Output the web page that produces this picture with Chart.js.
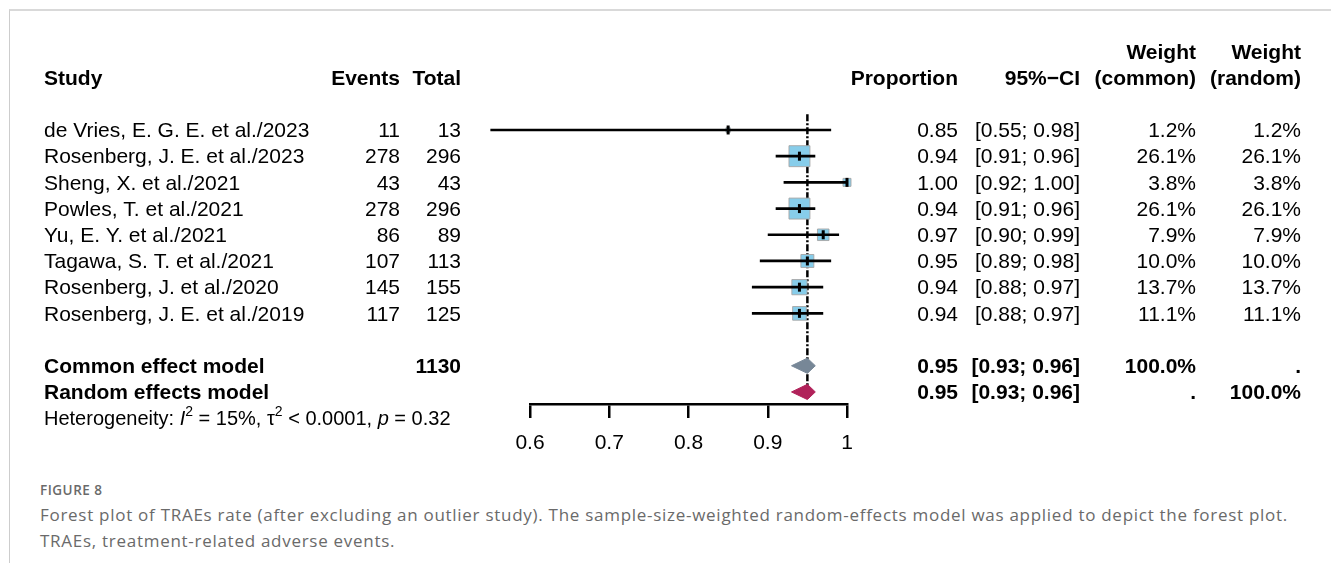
<!DOCTYPE html>
<html>
<head>
<meta charset="utf-8">
<title>Forest plot of TRAEs rate</title>
<script src="https://cdn.jsdelivr.net/npm/chart.js@4.4.1/dist/chart.umd.min.js"></script>
<style>
  html, body { margin: 0; padding: 0; background: #fff; }
  body { width: 1331px; height: 563px; position: relative; overflow: hidden; }
  .frame { position: absolute; left: 9px; top: 9px; right: 0; bottom: 0;
           border-top: 2px solid #d9d9d9; border-left: 1px solid #cdcdcd; }
  #plot { position: absolute; left: 0; top: 0; }
  .fig-label { position: absolute; left: 40px; top: 481px; font-family: 'Open Sans', Lato, sans-serif;
               font-size: 13.5px; letter-spacing: 0.5px; font-weight: 600; color: #6a6a6a; }
  .fig-text { position: absolute; left: 40px; top: 502px; width: 1290px; font-family: 'Open Sans', Lato, sans-serif;
              font-size: 17px; letter-spacing: 0.72px; line-height: 26px; color: #6a6a6a; white-space: nowrap; }
</style>
</head>
<body>
<div class="frame"></div>
<canvas id="plot" width="1331" height="470"></canvas>
<div class="fig-label">FIGURE 8</div>
<div class="fig-text">Forest plot of TRAEs rate (after excluding an outlier study). The sample-size-weighted random-effects model was applied to depict the forest plot.<br>TRAEs, treatment-related adverse events.</div>

<script>
// study level data
const studies = [
  'de Vries, E. G. E. et al./2023',
  'Rosenberg, J. E. et al./2023',
  'Sheng, X. et al./2021',
  'Powles, T. et al./2021',
  'Yu, E. Y. et al./2021',
  'Tagawa, S. T. et al./2021',
  'Rosenberg, J. et al./2020',
  'Rosenberg, J. E. et al./2019'
];
const events = [11, 278, 43, 278, 86, 107, 145, 117];
const totals = [13, 296, 43, 296, 89, 113, 155, 125];
const proportion = [0.85, 0.94, 1.00, 0.94, 0.97, 0.95, 0.94, 0.94];
const ciLower = [0.55, 0.91, 0.92, 0.91, 0.90, 0.89, 0.88, 0.88];
const ciUpper = [0.98, 0.96, 1.00, 0.96, 0.99, 0.98, 0.97, 0.97];
const weightCommon = [1.2, 26.1, 3.8, 26.1, 7.9, 10.0, 13.7, 11.1];
const weightRandom = [1.2, 26.1, 3.8, 26.1, 7.9, 10.0, 13.7, 11.1];

// pooled estimates
const totalN = 1130;
const commonEst = [0.95, 0.93, 0.96];   // estimate, lower, upper
const randomEst = [0.95, 0.93, 0.96];
const hetI2 = '15%';
const hetTau2 = '< 0.0001';
const hetP = '0.32';

const xTicks = [0.6, 0.7, 0.8, 0.9, 1];

// layout
const FONT = '"Liberation Sans", Arial, Helvetica, sans-serif';
const FS = 21;
const TEXT_DY = 1.5;
const ROW_COMMON = 9, ROW_RANDOM = 10, ROW_HET = 11;
const BOX_SCALE = 4.1;     // square side per sqrt(weight)
const DIAMOND_H = 0.29;    // half height of summary diamonds, in rows
const COL = { study: 44, events: 400, total: 461, prop: 958, ci: 1080, wCommon: 1196, wRandom: 1301 };

const fmtCI = (lo, hi) => '[' + lo.toFixed(2) + '; ' + hi.toFixed(2) + ']';
const fmtW = w => w.toFixed(1) + '%';

// CI whiskers as one broken line
const ciData = [];
studies.forEach((_, i) => {
  ciData.push({ x: ciLower[i], y: i }, { x: ciUpper[i], y: i }, { x: null, y: null });
});

const pointData = studies.map((_, i) => ({ x: proportion[i], y: i }));
const boxRadius = weightRandom.map(w => BOX_SCALE * Math.sqrt(w) / Math.SQRT2);

function diamond(est, row) {
  const [m, lo, hi] = est;
  return [
    { x: lo, y: row }, { x: m, y: row - DIAMOND_H },
    { x: hi, y: row }, { x: m, y: row + DIAMOND_H }, { x: lo, y: row }
  ];
}

// table text drawn next to the plot
const forestText = {
  id: 'forestText',
  afterDraw(chart) {
    const { ctx } = chart;
    const yScale = chart.scales.y;
    const rowY = row => yScale.getPixelForValue(row) + TEXT_DY;
    const put = (txt, x, row, align, bold) => {
      ctx.font = (bold ? 'bold ' : '') + FS + 'px ' + FONT;
      ctx.textAlign = align;
      ctx.textBaseline = 'middle';
      ctx.fillStyle = '#000';
      ctx.fillText(txt, x, rowY(row));
    };
    ctx.save();

    // headers
    put('Study', COL.study, -2, 'left', true);
    put('Events', COL.events, -2, 'right', true);
    put('Total', COL.total, -2, 'right', true);
    put('Proportion', COL.prop, -2, 'right', true);
    put('95%\u2212CI', COL.ci, -2, 'right', true);
    put('Weight', COL.wCommon, -3, 'right', true);
    put('(common)', COL.wCommon, -2, 'right', true);
    put('Weight', COL.wRandom, -3, 'right', true);
    put('(random)', COL.wRandom, -2, 'right', true);

    // study rows
    studies.forEach((s, i) => {
      put(s, COL.study, i, 'left');
      put(String(events[i]), COL.events, i, 'right');
      put(String(totals[i]), COL.total, i, 'right');
      put(proportion[i].toFixed(2), COL.prop, i, 'right');
      put(fmtCI(ciLower[i], ciUpper[i]), COL.ci, i, 'right');
      put(fmtW(weightCommon[i]), COL.wCommon, i, 'right');
      put(fmtW(weightRandom[i]), COL.wRandom, i, 'right');
    });

    // pooled rows
    put('Common effect model', COL.study, ROW_COMMON, 'left', true);
    put(String(totalN), COL.total, ROW_COMMON, 'right', true);
    put(commonEst[0].toFixed(2), COL.prop, ROW_COMMON, 'right', true);
    put(fmtCI(commonEst[1], commonEst[2]), COL.ci, ROW_COMMON, 'right', true);
    put('100.0%', COL.wCommon, ROW_COMMON, 'right', true);
    put('.', COL.wRandom, ROW_COMMON, 'right', true);

    put('Random effects model', COL.study, ROW_RANDOM, 'left', true);
    put(randomEst[0].toFixed(2), COL.prop, ROW_RANDOM, 'right', true);
    put(fmtCI(randomEst[1], randomEst[2]), COL.ci, ROW_RANDOM, 'right', true);
    put('.', COL.wCommon, ROW_RANDOM, 'right', true);
    put('100.0%', COL.wRandom, ROW_RANDOM, 'right', true);

    // heterogeneity line with italics and superscripts
    const hs = 20;
    const parts = [
      ['Heterogeneity: ', ''], ['I', 'italic '], ['2', 'sup'], [' = ' + hetI2 + ', ', ''],
      ['\u03c4', ''], ['2', 'sup'], [' ' + hetTau2 + ', ', ''], ['p', 'italic '], [' = ' + hetP, '']
    ];
    let x = COL.study;
    const yh = rowY(ROW_HET);
    ctx.textAlign = 'left';
    ctx.textBaseline = 'middle';
    parts.forEach(([t, st]) => {
      if (st === 'sup') {
        ctx.font = '14px ' + FONT;
        ctx.fillText(t, x, yh - 8);
      } else {
        ctx.font = st + hs + 'px ' + FONT;
        ctx.fillText(t, x, yh);
      }
      x += ctx.measureText(t).width;
    });
    ctx.restore();
  }
};

new Chart(document.getElementById('plot'), {
  type: 'scatter',
  data: {
    datasets: [
      {
        // reference line at the pooled estimate
        data: [{ x: commonEst[0], y: -0.6 }, { x: commonEst[0], y: ROW_RANDOM }],
        showLine: true,
        borderColor: '#000',
        borderWidth: 2.5,
        borderDash: [7, 2, 2, 2],
        pointRadius: 0,
        order: 6
      },
      {
        data: pointData,
        pointStyle: 'rect',
        pointRadius: boxRadius,
        backgroundColor: '#87cdea',
        borderColor: 'rgba(165,165,165,0.9)',
        borderWidth: 1,
        clip: false,
        order: 5
      },
      {
        data: ciData,
        showLine: true,
        spanGaps: false,
        borderColor: '#000',
        borderWidth: 2.7,
        pointRadius: 0,
        clip: false,
        order: 4
      },
      {
        data: pointData,
        pointStyle: 'line',
        rotation: 90,
        pointRadius: 4.5,
        borderColor: '#000',
        borderWidth: 3,
        clip: false,
        order: 3
      },
      {
        data: diamond(commonEst, ROW_COMMON),
        showLine: true,
        fill: 'shape',
        backgroundColor: '#778797',
        borderColor: '#778797',
        borderWidth: 1,
        pointRadius: 0,
        order: 2
      },
      {
        data: diamond(randomEst, ROW_RANDOM),
        showLine: true,
        fill: 'shape',
        backgroundColor: '#b1225a',
        borderColor: '#b1225a',
        borderWidth: 1,
        pointRadius: 0,
        order: 1
      }
    ]
  },
  options: {
    responsive: false,
    animation: false,
    layout: { padding: { left: 530, right: 484, top: 25.2, bottom: 0.8 } },
    plugins: { legend: { display: false }, tooltip: { enabled: false } },
    scales: {
      x: {
        type: 'linear',
        min: 0.6,
        max: 1,
        afterBuildTicks: s => { s.ticks = xTicks.map(v => ({ value: v })); },
        grid: { drawOnChartArea: false, drawTicks: true, tickLength: 14, color: '#000', lineWidth: 2.5 },
        border: { display: true, color: '#000', width: 2.5 },
        ticks: {
          padding: 13,
          color: '#000',
          font: { family: FONT, size: 21 },
          callback: v => String(v)
        }
      },
      y: { type: 'linear', display: false, reverse: true, min: -4, max: 10.46 }
    }
  },
  plugins: [forestText]
});
</script>
</body>
</html>
